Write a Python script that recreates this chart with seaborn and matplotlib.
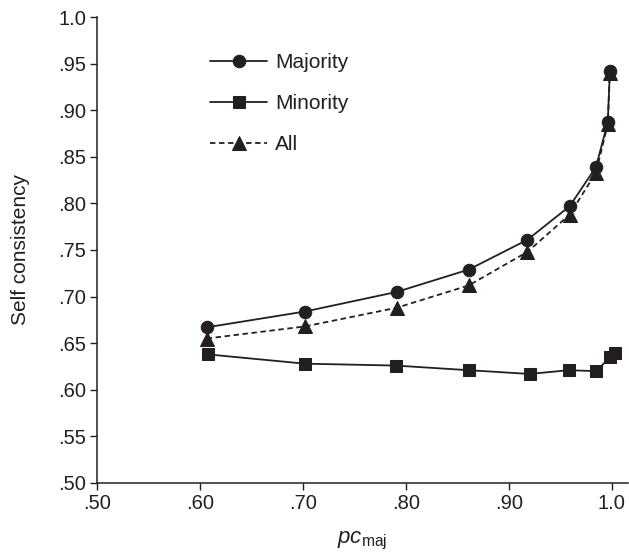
import matplotlib
matplotlib.use("Agg")
import matplotlib.pyplot as plt
import seaborn as sns

# pc_maj on x, self consistency on y
maj_x = [0.6065, 0.702, 0.791, 0.861, 0.918, 0.959, 0.9845, 0.996, 0.998]
maj_y = [0.667, 0.684, 0.705, 0.729, 0.761, 0.797, 0.839, 0.887, 0.942]

min_x = [0.6075, 0.702, 0.790, 0.861, 0.920, 0.958, 0.985, 0.998, 1.003]
min_y = [0.638, 0.628, 0.626, 0.621, 0.617, 0.621, 0.620, 0.635, 0.640]

all_x = [0.6065, 0.702, 0.791, 0.861, 0.918, 0.959, 0.9845, 0.996, 0.998]
all_y = [0.655, 0.668, 0.688, 0.712, 0.748, 0.788, 0.833, 0.885, 0.940]

x_ticks = [0.50, 0.60, 0.70, 0.80, 0.90, 1.0]
x_tick_labels = [".50", ".60", ".70", ".80", ".90", "1.0"]
y_ticks = [0.50, 0.55, 0.60, 0.65, 0.70, 0.75, 0.80, 0.85, 0.90, 0.95, 1.0]
y_tick_labels = [".50", ".55", ".60", ".65", ".70", ".75", ".80", ".85", ".90", ".95", "1.0"]

sns.set_style("ticks")
plt.rcParams["font.family"] = ["Liberation Sans", "DejaVu Sans"]
plt.rcParams["mathtext.fontset"] = "custom"
plt.rcParams["mathtext.rm"] = "Liberation Sans"
plt.rcParams["mathtext.it"] = "Liberation Sans:italic"

fig = plt.figure(figsize=(6.29, 5.54), dpi=100)
ax = fig.add_axes([0.1542, 0.1282, 0.844, 0.8411])

ink = "#231f20"
sns.lineplot(x=maj_x, y=maj_y, ax=ax, color=ink, marker="o", markersize=9,
             markeredgecolor=ink, linewidth=1.3, label="Majority", zorder=4)
sns.lineplot(x=min_x, y=min_y, ax=ax, color=ink, marker="s", markersize=9,
             markeredgecolor=ink, linewidth=1.3, label="Minority", zorder=3)
sns.lineplot(x=all_x, y=all_y, ax=ax, color=ink, marker="^", markersize=10.5,
             markeredgecolor=ink, linewidth=1.3, linestyle=(0, (3, 2)),
             label="All", zorder=3)

ax.set_xlim(0.50, 1.0155)
ax.set_ylim(0.50, 1.0)
ax.set_xticks(x_ticks, x_tick_labels)
ax.set_yticks(y_ticks, y_tick_labels)
ax.tick_params(labelsize=14.5, length=5, width=1, color=ink, labelcolor=ink, pad=3)
for side in ("left", "bottom"):
    ax.spines[side].set_linewidth(1.1)
    ax.spines[side].set_color(ink)
ax.spines["top"].set_visible(False)
ax.spines["right"].set_visible(False)

ax.set_xlabel(r"$\mathit{pc}_{\mathrm{maj}}$", fontsize=16, color=ink, labelpad=12)
ax.set_ylabel("Self consistency", fontsize=15, color=ink, labelpad=20)

ax.legend(loc="upper left", bbox_to_anchor=(0.213, 0.922), frameon=False,
          fontsize=15, handlelength=2.75, handletextpad=0.38, labelspacing=1.05,
          borderpad=0, borderaxespad=0, labelcolor=ink)

fig.savefig("out.png", dpi=100)
